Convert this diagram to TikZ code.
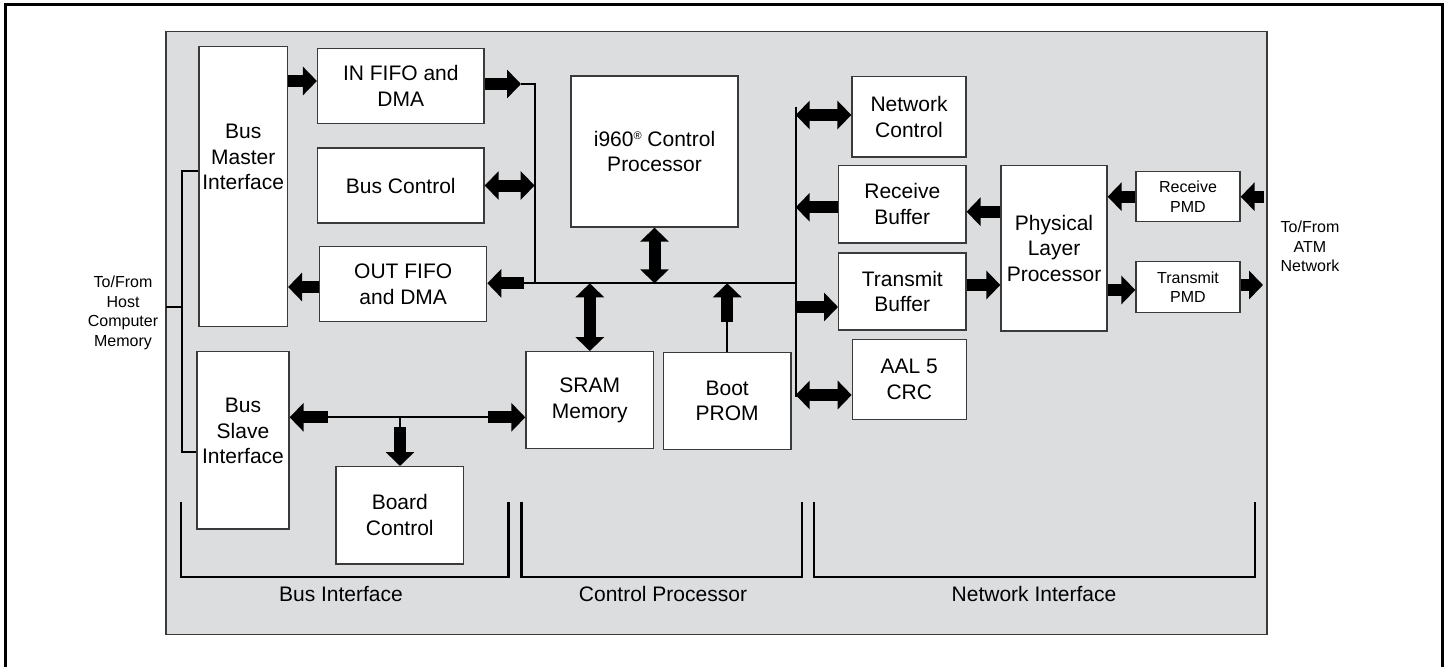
\documentclass[tikz,border=0pt]{standalone}
\usepackage{fontspec}
\setmainfont{Liberation Sans}
\usetikzlibrary{arrows.meta}
\definecolor{panel}{HTML}{DCDDDF}
\definecolor{edge}{HTML}{3A3A3A}
\newcommand{\boxfont}{\fontsize{21}{25.7}\selectfont}
\newcommand{\sidefont}{\fontsize{16}{19.5}\selectfont}
\newcommand{\regmark}{{\fontsize{11}{11}\selectfont\raisebox{7pt}{®}}}

\begin{document}
\begin{tikzpicture}[x=1pt,y=-1pt,
  box/.style={draw=edge,fill=white,line width=1.3pt,align=center,inner sep=0pt,font=\boxfont},
  txt/.style={align=center,inner sep=0pt,font=\boxfont},
  side/.style={align=center,inner sep=0pt,font=\sidefont},
  bus/.style={line width=2pt},
  wire/.style={line width=2pt},
  bracket/.style={line width=2.4pt},
  fat/.style={line width=12pt,-{Triangle[width=28pt,length=14pt]}},
  fatboth/.style={line width=12pt,{Triangle[width=28pt,length=14pt]}-{Triangle[width=28pt,length=14pt]}}]
\useasboundingbox (0,0) rectangle (1447,666);
\draw[line width=3pt] (5,690) -- (5,5) -- (1442,5) -- (1442,690);
\draw[fill=panel,draw=edge,line width=1.3pt] (166,31.7) rectangle (1267,634.3);

\node[box,minimum width=88.5pt,minimum height=280pt] (bmi) at (243.2,186.7) {};
\node[txt] (bmitext) at (243.2,157) {Bus\\Master\\Interface};
\node[box,minimum width=166.5pt,minimum height=75.4pt] (infifo) at (400.8,86) {IN FIFO and\\DMA};
\node[box,minimum width=166.5pt,minimum height=75pt] (busctl) at (400.8,185.5) {Bus Control};
\node[box,minimum width=167pt,minimum height=75pt] (outfifo) at (403.2,284.2) {OUT FIFO\\and DMA};
\node[box,minimum width=92pt,minimum height=177.3pt] (bsi) at (243,440.3) {};
\node[txt] (bsitext) at (243,431) {Bus\\Slave\\Interface};
\node[box,minimum width=127.6pt,minimum height=97.3pt] (board) at (399.8,515.3) {Board\\Control};
\node[box,minimum width=167pt,minimum height=151pt] (cpu) at (654.5,151.5) {i960\regmark{} Control\\Processor};
\node[box,minimum width=127.7pt,minimum height=97pt] (sram) at (589.8,400.2) {SRAM\\Memory};
\node[box,minimum width=127.7pt,minimum height=97pt] (prom) at (727.2,400.8) {Boot\\PROM};
\node[box,minimum width=114pt,minimum height=80.3pt] (netctl) at (909,116.8) {Network\\Control};
\node[box,minimum width=127.3pt,minimum height=77.3pt] (rxbuf) at (902.3,204.3) {Receive\\Buffer};
\node[box,minimum width=127.3pt,minimum height=77pt] (txbuf) at (902.3,291.5) {Transmit\\Buffer};
\node[box,minimum width=114pt,minimum height=80.4pt] (aal) at (909.3,379.5) {AAL 5\\CRC};
\node[box,minimum width=106pt,minimum height=165.3pt] (phy) at (1054,248.3) {Physical\\Layer\\Processor};
\node[box,font=\sidefont,minimum width=104pt,minimum height=50pt] (rxpmd) at (1188,196.7) {Receive\\PMD};
\node[box,font=\sidefont,minimum width=104pt,minimum height=50.6pt] (txpmd) at (1188,287) {Transmit\\PMD};
\node[side] (host) at (123,313) {To/From\\Host\\Computer\\Memory};
\node[side] (atm) at (1310,246.7) {To/From\\ATM\\Network};

\coordinate (intip) at (521,84);
\coordinate (lbtop) at (534.6,84);
\coordinate (lbbot) at (534.6,283.3);
\coordinate (outtail) at (524,283.3);
\coordinate (rbtop) at (795.7,106.7);
\coordinate (rbjoin) at (795.7,283.3);
\coordinate (rbbot) at (795.7,396.7);
\coordinate (promtail) at (727.2,321.7);
\coordinate (atmin) at (1264,196.7);
\coordinate (atmout) at (1263,285);
\coordinate (sbL) at (327.5,417.3);
\coordinate (sbR) at (487.5,417.3);
\coordinate (sbT) at (400,417.3);
\coordinate (sbD) at (400,427);
\coordinate (hostjoin) at (182,306.7);

% buses
\draw[bus] (intip) -- (lbtop) -- (lbbot) -- (outtail);
\draw[bus] (lbbot) -- (rbjoin);
\draw[bus] (rbtop) -- (rbbot);
\draw[bus] (sbL) -- (sbR);
\draw[bus] (sbT) -- (sbD);
\draw[bus] (bmi.west |- 0,171) -- (182,171) -- (182,451.7) -- (bsi.west |- 0,451.7);
\draw[bus] (166,306.7) -- (hostjoin);
\draw[wire] (prom.north) -- (promtail);

% bus interface
\draw[fat] (bmi.east |- 0,81) -- (infifo.west |- 0,81);
\draw[fat] (infifo.east |- intip) -- (intip);
\draw[fatboth] (busctl.east) -- (busctl.east -| lbtop);
\draw[fat] (outtail) -- (outfifo.east |- outtail);
\draw[fat] (outfifo.west |- 0,287) -- (bmi.east |- 0,287);
\draw[fat] (sbL) -- (bsi.east |- sbL);
\draw[fat] (sbR) -- (sram.west |- sbR);
\draw[fat] (sbD) -- (sbD |- board.north);

% control processor
\draw[fatboth] (cpu.south) -- (cpu.south |- lbbot);
\draw[fatboth] (sram.north |- lbbot) -- (sram.north);
\draw[fat] (promtail) -- (promtail |- lbbot);

% network interface
\draw[fatboth] (rbtop |- 0,115) -- (netctl.west |- 0,115);
\draw[fat] (rxbuf.west |- 0,207.3) -- (rbtop |- 0,207.3);
\draw[fat] (rbtop |- 0,307) -- (txbuf.west |- 0,307);
\draw[fatboth] (rbtop |- 0,395) -- (aal.west |- 0,395);
\draw[fat] (phy.west |- 0,211.7) -- (rxbuf.east |- 0,211.7);
\draw[fat] (rxpmd.west) -- (phy.east |- rxpmd.west);
\draw[fat] (atmin) -- (rxpmd.east);
\draw[fat] (txbuf.east |- 0,285) -- (phy.west |- 0,285);
\draw[fat] (phy.east |- 0,290) -- (txpmd.west |- 0,290);
\draw[fat] (txpmd.east |- atmout) -- (atmout);

% brackets
\draw[bracket] (181,501.7) -- (181,576.7) -- (508.6,576.7) -- (508.6,501.7);
\draw[bracket] (521.4,501.7) -- (521.4,576.7) -- (801.7,576.7) -- (801.7,501.7);
\draw[bracket] (814,501.7) -- (814,576.7) -- (1254.8,576.7) -- (1254.8,501.7);
\node[txt,anchor=base] (busif) at (341,601.7) {Bus Interface};
\node[txt,anchor=base] (cpuif) at (663,601.7) {Control Processor};
\node[txt,anchor=base] (netif) at (1034,601.7) {Network Interface};
\end{tikzpicture}
\end{document}
